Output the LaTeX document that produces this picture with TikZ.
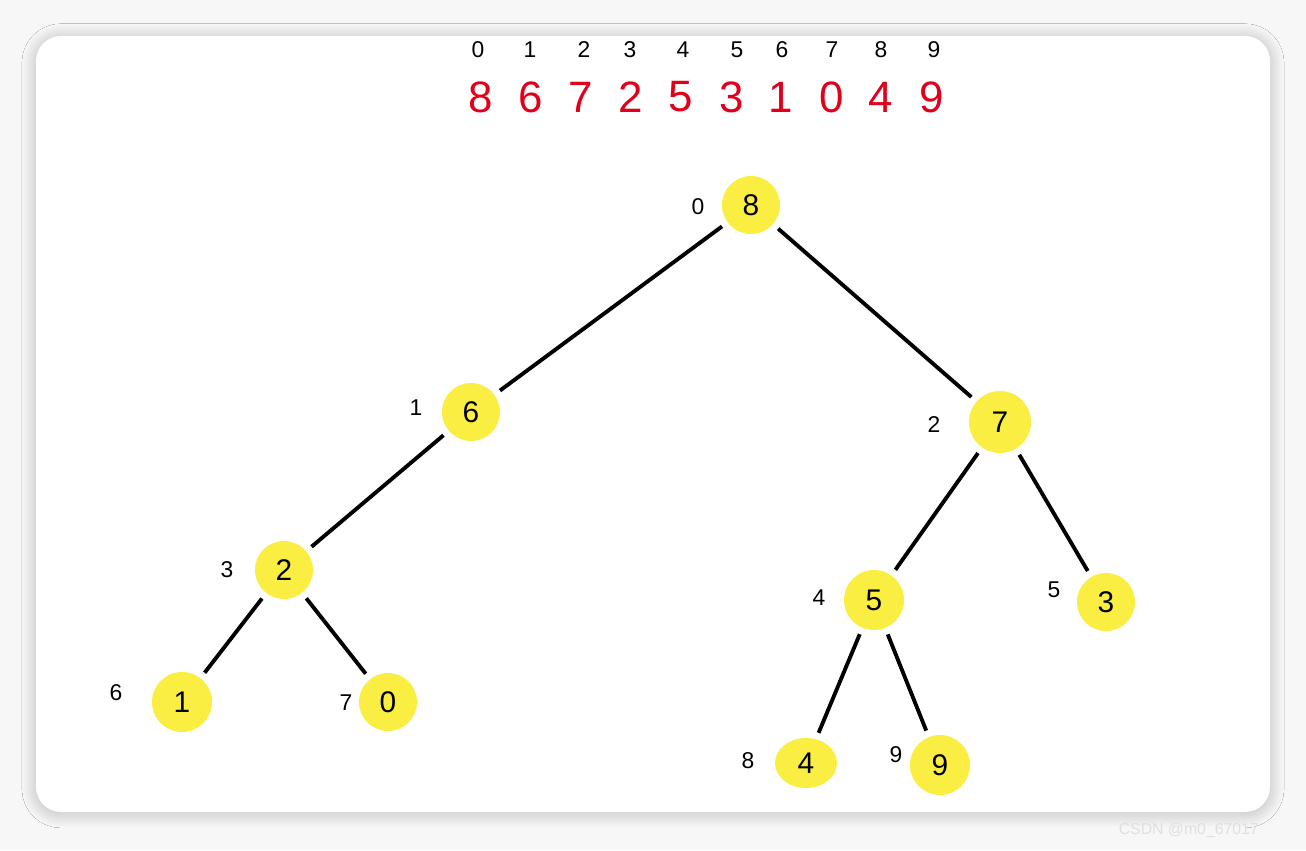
\documentclass[tikz,border=0pt]{standalone}
\usepackage{fontspec}
\setmainfont{Liberation Sans}
\usetikzlibrary{shadows.blur,shapes.geometric}
\begin{document}
\begin{tikzpicture}[x=0.02cm,y=-0.02cm,
  nd/.style={circle,fill=nodey,minimum size=58*0.02cm,inner sep=0pt,outer sep=4pt,font=\fontsize{17}{17}\selectfont},
  idx/.style={font=\fontsize{13}{13}\selectfont},
  arr/.style={font=\fontsize{25}{25}\selectfont,text=arrred},
  ed/.style={line width=2.2pt}]
\definecolor{nodey}{HTML}{FBEE43}
\definecolor{arrred}{HTML}{E0001B}
\fill[gray!6] (0,0) rectangle (1306,850);
\useasboundingbox (0,0) rectangle (1306,850);
\fill[white,rounded corners=0.5cm,blur shadow={shadow blur steps=20,shadow blur radius=8pt,shadow xshift=0pt,shadow yshift=-1pt,shadow opacity=25}] (36,36) rectangle (1270,812);
\foreach \i/\x in {0/478,1/530,2/584,3/630,4/683,5/737,6/782,7/832,8/881,9/934}
  \node[idx] (ti\i) at (\x,50) {\i};
\foreach \i/\v/\x in {0/8/481,1/6/531,2/7/581,3/2/631,4/5/681,5/3/732,6/1/781,7/0/832,8/4/881,9/9/932}
  \node[arr] (tv\i) at (\x,97) {\v};
\node[nd] (n8) at (751,205) {8};
\node[nd] (n6) at (471,412) {6};
\node[nd,minimum size=62*0.02cm] (n7) at (1000,422) {7};
\node[nd] (n2) at (284,570) {2};
\node[nd,minimum size=60*0.02cm] (n5) at (874,600) {5};
\node[nd] (n3) at (1106,602) {3};
\node[nd,minimum size=60*0.02cm] (n1) at (182,702) {1};
\node[nd] (n0) at (388,702) {0};
\node[nd,ellipse,minimum width=62*0.02cm,minimum height=50*0.02cm] (n4) at (806,763) {4};
\node[nd,minimum size=60*0.02cm] (n9) at (940,765) {9};
\foreach \l/\x/\y in {0/698/207,1/416/408,2/934/425,3/227/570,4/819/598,5/1054/590,6/116/693,7/346/703,8/748/761,9/896/755}
  \node[idx] (l\l) at (\x,\y) {\l};
\draw[ed] (n8) -- (n6);
\draw[ed] (n8) -- (n7);
\draw[ed] (n6) -- (n2);
\draw[ed] (n7) -- (n5);
\draw[ed] (n7) -- (n3);
\draw[ed] (n2) -- (n1);
\draw[ed] (n2) -- (n0);
\draw[ed] (n5) -- (n4);
\draw[ed] (n5) -- (n9);
\node[text=gray!25,font=\fontsize{9}{9}\selectfont,anchor=east] (wm) at (1265,830) {CSDN @m0\_67017};
\end{tikzpicture}
\end{document}
